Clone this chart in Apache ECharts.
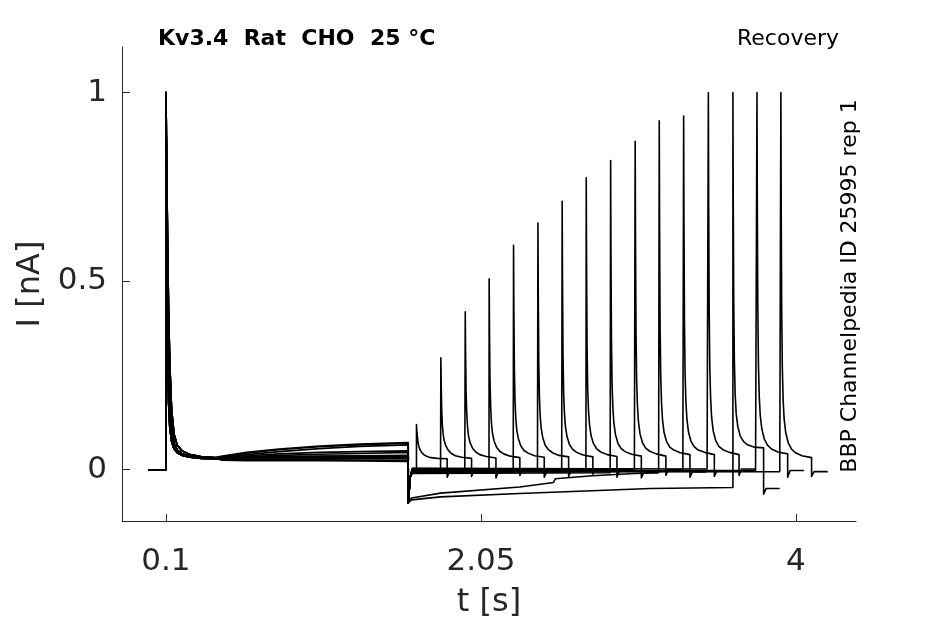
<!DOCTYPE html>
<html>
<head>
<meta charset="utf-8">
<title>Kv3.4 Recovery</title>
<script src="https://cdn.jsdelivr.net/npm/echarts@6/dist/echarts.min.js"></script>
<style>
  html, body { margin: 0; padding: 0; background: #fff; }
  #chart { width: 945px; height: 624px; }
</style>
</head>
<body>
<div id="chart"></div>
<script>
'use strict';

// tick labels
var xTicks = [0.1, 2.05, 4];
var yTicks = [0, 0.5, 1];

// protocol times [s]
var traceStart = -0.01;
var pulse1On = 0.1;
var pulse1Off = 1.6;
var pulse2Len = 0.19;
var tailLen = 0.29;

// first pulse: peak and decay (offsets from onset)
var p1Peak = [1.0, 0.93, 1.0, 1.0, 1.0, 1.0, 1.0, 1.0, 1.0, 1.0, 1.0, 1.0, 1.0, 1.0, 1.0, 1.0];
var p1DecayT = [0.002, 0.005, 0.01, 0.016, 0.024, 0.035, 0.05, 0.07, 0.1, 0.15, 0.22, 0.3];
var p1DecayFast = [0.80, 0.55, 0.32, 0.18, 0.11, 0.075, 0.055, 0.045, 0.038, 0.033, 0.030, 0.029];
var p1DecayMid = [0.88, 0.70, 0.47, 0.30, 0.18, 0.11, 0.070, 0.052, 0.042, 0.035, 0.031, 0.030];
var p1DecaySlow = [0.93, 0.80, 0.62, 0.43, 0.28, 0.16, 0.095, 0.065, 0.050, 0.040, 0.034, 0.032];
var p1DecayKind = ['fast', 'mid', 'slow', 'mid', 'fast', 'slow', 'mid', 'fast',
                   'mid', 'slow', 'fast', 'mid', 'slow', 'fast', 'mid', 'slow'];

// first pulse steady level
var driftT = [0.45, 0.6, 0.8, 1.05, 1.3, 1.6];
var drift = [
  [0.030, 0.030, 0.031, 0.032, 0.033, 0.034],
  [0.029, 0.029, 0.030, 0.030, 0.031, 0.032],
  [0.036, 0.046, 0.055, 0.063, 0.068, 0.072],
  [0.028, 0.028, 0.028, 0.029, 0.030, 0.030],
  [0.031, 0.033, 0.035, 0.036, 0.037, 0.038],
  [0.025, 0.024, 0.024, 0.024, 0.023, 0.022],
  [0.032, 0.037, 0.042, 0.046, 0.048, 0.050],
  [0.035, 0.044, 0.053, 0.061, 0.066, 0.070],
  [0.028, 0.029, 0.029, 0.030, 0.031, 0.031],
  [0.026, 0.025, 0.025, 0.025, 0.025, 0.024],
  [0.030, 0.032, 0.034, 0.035, 0.036, 0.036],
  [0.033, 0.040, 0.048, 0.056, 0.062, 0.066],
  [0.029, 0.030, 0.032, 0.033, 0.034, 0.035],
  [0.031, 0.034, 0.038, 0.041, 0.043, 0.046],
  [0.027, 0.027, 0.028, 0.028, 0.029, 0.029],
  [0.030, 0.031, 0.032, 0.034, 0.035, 0.036]
];

// interval between pulses: [t, I] after the tail dip
var gapDip = -0.088;
var gap = [
  [[1.612, -0.02], [1.625, -0.004]],
  [[1.612, -0.02], [1.625, -0.002], [1.80, -0.002]],
  [[1.612, -0.02], [1.625, -0.006], [1.95, -0.004]],
  [[1.612, -0.02], [1.625, 0.002], [2.10, 0.001]],
  [[1.612, -0.02], [1.625, -0.008], [2.25, -0.006]],
  [[1.612, -0.02], [1.625, -0.003], [2.40, -0.002]],
  [[1.612, -0.02], [1.625, 0.003], [2.55, 0.002]],
  [[1.612, -0.02], [1.625, -0.005], [2.70, -0.004]],
  [[1.612, -0.02], [1.625, -0.010], [2.85, -0.008]],
  [[1.612, -0.02], [1.625, 0.000], [3.00, 0.001]],
  [[1.62, -0.075], [1.8, -0.062], [2.29, -0.046], [2.50, -0.034], [2.51, -0.024], [2.74, -0.016], [3.0, -0.010], [3.15, -0.008]],
  [[1.612, -0.02], [1.625, -0.004], [3.30, -0.003]],
  [[1.612, -0.02], [1.625, 0.004], [3.45, 0.002]],
  [[1.62, -0.080], [1.8, -0.072], [2.29, -0.063], [3.1, -0.050], [3.61, -0.047]],
  [[1.612, -0.02], [1.625, -0.002], [3.75, -0.002]],
  [[1.612, -0.02], [1.625, -0.006], [3.90, -0.005]]
];

// second pulse onset, peak and decay (offsets from onset)
var t2 = [1.651, 1.802, 1.953, 2.101, 2.252, 2.403, 2.553, 2.702,
          2.853, 3.005, 3.154, 3.305, 3.458, 3.610, 3.759, 3.907];
var p2DecayT = [0, 0.002, 0.005, 0.009, 0.014, 0.02, 0.03, 0.045, 0.065, 0.09, 0.13, 0.19];
var p2Decay = [
  [0.120, 0.105, 0.090, 0.075, 0.063, 0.055, 0.047, 0.040, 0.035, 0.032, 0.030, 0.029],
  [0.297, 0.230, 0.160, 0.120, 0.095, 0.078, 0.064, 0.052, 0.043, 0.037, 0.033, 0.030],
  [0.419, 0.310, 0.210, 0.150, 0.115, 0.090, 0.072, 0.057, 0.047, 0.040, 0.035, 0.031],
  [0.506, 0.370, 0.240, 0.170, 0.125, 0.098, 0.077, 0.060, 0.049, 0.042, 0.036, 0.032],
  [0.595, 0.430, 0.270, 0.185, 0.135, 0.105, 0.082, 0.063, 0.051, 0.044, 0.037, 0.033],
  [0.654, 0.470, 0.290, 0.195, 0.142, 0.110, 0.085, 0.065, 0.053, 0.045, 0.038, 0.034],
  [0.712, 0.510, 0.310, 0.205, 0.150, 0.115, 0.088, 0.067, 0.054, 0.046, 0.039, 0.034],
  [0.774, 0.550, 0.330, 0.215, 0.157, 0.120, 0.090, 0.069, 0.055, 0.047, 0.040, 0.035],
  [0.820, 0.580, 0.350, 0.225, 0.163, 0.124, 0.093, 0.070, 0.056, 0.048, 0.041, 0.036],
  [0.871, 0.610, 0.370, 0.235, 0.170, 0.128, 0.095, 0.072, 0.057, 0.049, 0.042, 0.036],
  [0.925, 0.650, 0.390, 0.250, 0.178, 0.133, 0.098, 0.075, 0.060, 0.052, 0.045, 0.040],
  [0.938, 0.660, 0.395, 0.255, 0.180, 0.135, 0.100, 0.076, 0.061, 0.052, 0.046, 0.040],
  [1.000, 0.700, 0.420, 0.270, 0.190, 0.140, 0.103, 0.078, 0.062, 0.053, 0.046, 0.040],
  [1.000, 0.720, 0.450, 0.290, 0.200, 0.150, 0.115, 0.090, 0.075, 0.066, 0.060, 0.058],
  [1.000, 0.710, 0.440, 0.280, 0.195, 0.145, 0.108, 0.082, 0.065, 0.055, 0.047, 0.042],
  [1.000, 0.700, 0.420, 0.270, 0.185, 0.135, 0.098, 0.072, 0.055, 0.045, 0.037, 0.032]
];

// after the second pulse
var tailDip = [-0.02, -0.018, -0.022, -0.015, -0.02, -0.018, -0.012, -0.02,
               -0.022, -0.015, -0.02, -0.018, -0.015, -0.065, -0.02, -0.018];
var tailLevel = [-0.004, -0.002, -0.005, 0.001, -0.006, -0.002, 0.002, -0.004,
                 -0.008, 0.0, -0.006, -0.003, 0.002, -0.05, -0.002, -0.005];

function buildTrace(k) {
  var pts = [[traceStart, 0], [pulse1On, 0], [pulse1On, p1Peak[k]]];
  var kind = p1DecayKind[k];
  var dec = kind === 'fast' ? p1DecayFast : (kind === 'slow' ? p1DecaySlow : p1DecayMid);
  p1DecayT.forEach(function(dt, i) { pts.push([pulse1On + dt, dec[i]]); });
  driftT.forEach(function(t, i) { pts.push([t, drift[k][i]]); });
  pts.push([pulse1Off, gapDip]);
  gap[k].forEach(function(p) { pts.push(p); });
  var last = pts[pts.length - 1][1];
  pts.push([t2[k], last]);
  p2DecayT.forEach(function(dt, i) { pts.push([t2[k] + dt, p2Decay[k][i]]); });
  pts.push([t2[k] + pulse2Len, tailDip[k]]);
  pts.push([t2[k] + pulse2Len + 0.015, tailLevel[k]]);
  pts.push([t2[k] + tailLen, tailLevel[k]]);
  return pts;
}

var series = [];
for (var k = 0; k < t2.length; k++) {
  series.push({
    type: 'line',
    data: buildTrace(k),
    showSymbol: false,
    symbol: 'none',
    silent: true,
    lineStyle: { color: '#000', width: 1.6, join: 'round' }
  });
}

var axisColor = '#262626';
var font = '"DejaVu Sans", sans-serif';

var chart = echarts.init(document.getElementById('chart'));
chart.setOption({
  animation: false,
  backgroundColor: '#fff',
  grid: { left: 122, right: 89, top: 47, bottom: 98, containLabel: false },
  xAxis: {
    type: 'value',
    min: -0.172,
    max: 4.372,
    name: 't [s]',
    nameLocation: 'middle',
    nameGap: 66,
    nameTextStyle: { fontSize: 32, color: axisColor, fontFamily: font },
    axisLine: { show: true, onZero: false, lineStyle: { color: axisColor, width: 1 } },
    axisTick: { show: true, inside: true, length: 7, customValues: xTicks, lineStyle: { color: axisColor } },
    axisLabel: { customValues: xTicks, fontSize: 31, color: axisColor, fontFamily: font, margin: 25 },
    splitLine: { show: false }
  },
  yAxis: {
    type: 'value',
    min: -0.136,
    max: 1.121,
    name: 'I [nA]',
    nameLocation: 'middle',
    nameGap: 70,
    nameTextStyle: { fontSize: 32, color: axisColor, fontFamily: font },
    axisLine: { show: true, onZero: false, lineStyle: { color: axisColor, width: 1 } },
    axisTick: { show: true, inside: true, length: 8, customValues: yTicks, lineStyle: { color: axisColor } },
    axisLabel: { customValues: yTicks, fontSize: 31, color: axisColor, fontFamily: font, margin: 15 },
    splitLine: { show: false }
  },
  graphic: [
    {
      type: 'text', left: 158, top: 28,
      style: { text: 'Kv3.4  Rat  CHO  25 °C', fill: '#000', font: 'bold 22px "DejaVu Sans"' }
    },
    {
      type: 'text', right: 106, top: 28,
      style: { text: 'Recovery', fill: '#000', font: '22px "DejaVu Sans"' }
    },
    {
      type: 'text', x: 850, y: 286, rotation: Math.PI / 2,
      style: {
        text: 'BBP Channelpedia ID 25995 rep 1', fill: '#000', font: '22px "DejaVu Sans"',
        align: 'center', verticalAlign: 'middle'
      }
    }
  ],
  series: series
});
</script>
</body>
</html>
